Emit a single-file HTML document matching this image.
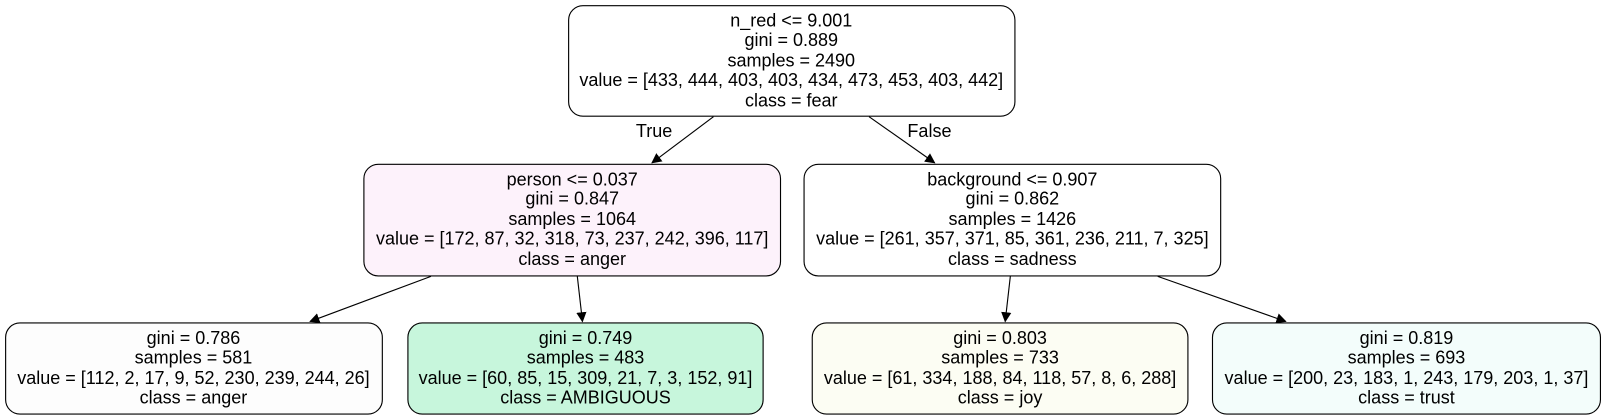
<!DOCTYPE html>
<html><head><style>html,body{margin:0;padding:0;background:#fff;}svg{display:block}</style></head>
<body>
<svg width="1603" height="419" viewBox="0 0 1566 409.3" xmlns="http://www.w3.org/2000/svg" font-family="Liberation Sans, Helvetica, sans-serif" font-size="17.6" text-anchor="middle">
<defs><marker id="a" markerWidth="10" markerHeight="10" refX="9" refY="5" orient="auto" markerUnits="userSpaceOnUse"><path d="M0,0 L10,5 L0,10 z" fill="#000"/></marker></defs>
<g stroke="#000" stroke-width="1.1">
<rect x="555.5" y="5.5" width="436" height="108" rx="14" fill="#fff"/>
<rect x="355.5" y="160.5" width="407" height="109" rx="14" fill="#fdf2fb"/>
<rect x="785.5" y="160.5" width="407" height="109" rx="14" fill="#fff"/>
<rect x="5.5" y="315.5" width="368" height="89" rx="14" fill="#fdfdfd"/>
<rect x="398.5" y="315.5" width="347" height="89" rx="14" fill="#c7f6dc"/>
<rect x="793.5" y="315.5" width="367" height="89" rx="14" fill="#fcfdf3"/>
<rect x="1184.5" y="315.5" width="379" height="89" rx="14" fill="#f3fdfb"/>
<line x1="697" y1="114" x2="637" y2="159" marker-end="url(#a)"/>
<line x1="849" y1="114" x2="913" y2="159" marker-end="url(#a)"/>
<line x1="421" y1="270" x2="303" y2="314" marker-end="url(#a)"/>
<line x1="564" y1="270" x2="569" y2="314" marker-end="url(#a)"/>
<line x1="987" y1="270" x2="982" y2="314" marker-end="url(#a)"/>
<line x1="1131" y1="270" x2="1256" y2="314" marker-end="url(#a)"/>
</g>
<text x="773" y="26">n_red &lt;= 9.001</text><text x="773" y="45">gini = 0.889</text><text x="773" y="65">samples = 2490</text><text x="773" y="84">value = [433, 444, 403, 403, 434, 473, 453, 403, 442]</text><text x="773" y="104">class = fear</text>
<text x="639" y="134">True</text><text x="908" y="134">False</text>
<text x="559" y="181">person &lt;= 0.037</text><text x="559" y="200">gini = 0.847</text><text x="559" y="220">samples = 1064</text><text x="559" y="239">value = [172, 87, 32, 318, 73, 237, 242, 396, 117]</text><text x="559" y="259">class = anger</text>
<text x="989" y="181">background &lt;= 0.907</text><text x="989" y="200">gini = 0.862</text><text x="989" y="220">samples = 1426</text><text x="989" y="239">value = [261, 357, 371, 85, 361, 236, 211, 7, 325]</text><text x="989" y="259">class = sadness</text>
<text x="189" y="336">gini = 0.786</text><text x="189" y="355">samples = 581</text><text x="189" y="375">value = [112, 2, 17, 9, 52, 230, 239, 244, 26]</text><text x="189" y="394">class = anger</text>
<text x="572" y="336">gini = 0.749</text><text x="572" y="355">samples = 483</text><text x="572" y="375">value = [60, 85, 15, 309, 21, 7, 3, 152, 91]</text><text x="572" y="394">class = AMBIGUOUS</text>
<text x="977" y="336">gini = 0.803</text><text x="977" y="355">samples = 733</text><text x="977" y="375">value = [61, 334, 188, 84, 118, 57, 8, 6, 288]</text><text x="977" y="394">class = joy</text>
<text x="1374" y="336">gini = 0.819</text><text x="1374" y="355">samples = 693</text><text x="1374" y="375">value = [200, 23, 183, 1, 243, 179, 203, 1, 37]</text><text x="1374" y="394">class = trust</text>
</svg>
</body></html>
